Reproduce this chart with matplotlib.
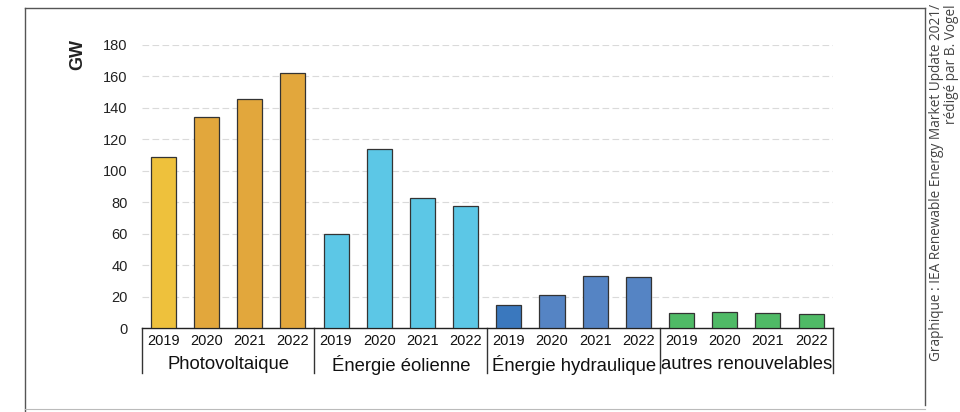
import matplotlib
matplotlib.use("Agg")
import matplotlib.pyplot as plt
import matplotlib.transforms as mtransforms
from matplotlib.lines import Line2D

plt.rcParams["font.family"] = ["Liberation Sans", "DejaVu Sans"]

# ---------------------------------------------------------------------------
# Data (GW of new renewable capacity)
# ---------------------------------------------------------------------------
years = ["2019", "2020", "2021", "2022"]
category_labels = ["Photovoltaique", "Énergie éolienne", "Énergie hydraulique", "autres renouvelables"]
photovoltaic = [109, 134, 146, 162]
wind = [60, 114, 83, 78]
hydro = [14.5, 21, 33, 32.5]
other = [10, 10.5, 9.5, 9]
y_ticks = [0, 20, 40, 60, 80, 100, 120, 140, 160, 180]

series = [photovoltaic, wind, hydro, other]
colors = [
    ["#eec13c", "#e2a73c", "#e2a73c", "#e2a73c"],
    ["#5cc7e6", "#5cc7e6", "#5cc7e6", "#5cc7e6"],
    ["#3a78be", "#5584c4", "#5584c4", "#5584c4"],
    ["#4fba66", "#4fba66", "#4fba66", "#4fba66"],
]

W, H = 960, 412
fig = plt.figure(figsize=(W / 100, H / 100), dpi=100)
ax = fig.add_axes([141.7 / W, 1 - 328.3 / H, 691 / W, 283.3 / H])

# bars
n = len(years)
for g, values in enumerate(series):
    xs = [g * n + i for i in range(n)]
    ax.bar(xs, values, width=0.58, color=colors[g], edgecolor="#333333", linewidth=0.9, zorder=3)

ax.set_xlim(-0.5, len(series) * n - 0.5)
ax.set_ylim(0, 180)
ax.set_yticks(y_ticks)
ax.set_yticklabels([str(t) for t in y_ticks], fontsize=10.5, color="#222222")
ax.tick_params(axis="y", length=0, pad=10)

ax.set_xticks(range(len(series) * n))
ax.set_xticklabels(years * len(series), fontsize=10.5, color="#111111")
ax.tick_params(axis="x", length=0, pad=4)

for s in ["top", "right", "left"]:
    ax.spines[s].set_visible(False)
ax.spines["bottom"].set_color("#222222")
ax.spines["bottom"].set_linewidth(1.0)

ax.yaxis.grid(True, color="#dadada", linestyle=(0, (6, 3)), linewidth=0.8, zorder=0)
ax.set_axisbelow(True)

# category labels and separators under the axis
trans = mtransforms.blended_transform_factory(ax.transData, ax.transAxes)
for g, label in enumerate(category_labels):
    ax.text(g * n + (n - 1) / 2, -0.128, label, transform=trans, ha="center", va="center",
            fontsize=13.3, color="#111111")
for g in range(len(series) + 1):
    xb = g * n - 0.5
    ax.plot([xb, xb], [0, -0.158], transform=trans, color="#333333", linewidth=1.0,
            clip_on=False)

# y unit label
fig.text(78 / W, 1 - 55 / H, "GW", rotation=90, ha="center", va="center",
         fontsize=13, fontweight="bold", color="#222222")

# source credit on the right
fig.text(929 / W, 1 - 4 / H,
         "Graphique : IEA Renewable Energy Market Update 2021/\nrédigé par B. Vogel",
         rotation=90, ha="left", va="top", multialignment="right",
         fontsize=9.8, color="#444444", family=["Open Sans", "DejaVu Sans"],
         linespacing=1.0)

# outer frame
px = lambda x: x / W
py = lambda y: 1 - y / H
fig.add_artist(Line2D([px(25), px(925)], [py(8), py(8)], color="#555555", linewidth=1.0))
fig.add_artist(Line2D([px(25), px(25)], [py(8), py(412)], color="#555555", linewidth=1.0))
fig.add_artist(Line2D([px(925), px(925)], [py(8), py(405)], color="#555555", linewidth=1.0))
fig.add_artist(Line2D([px(25), px(925)], [py(409), py(409)], color="#bbbbbb", linewidth=0.8))

fig.savefig("out.png", dpi=100)
